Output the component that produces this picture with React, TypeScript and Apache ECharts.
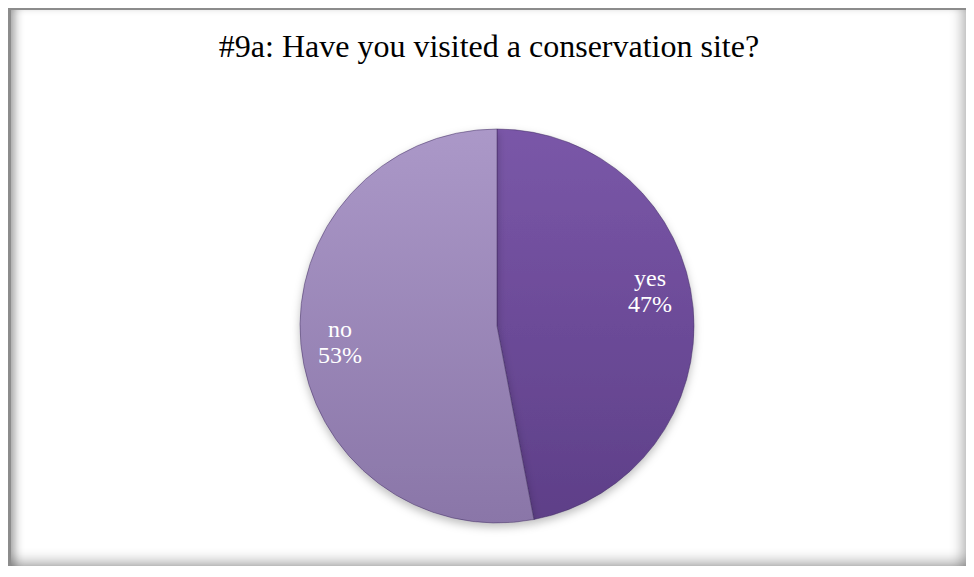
import React, { useEffect, useRef } from "react";
import * as echarts from "echarts";

const titleText = "#9a: Have you visited a conservation site?";
const categories = ["yes", "no"];
const values = [47, 53];
const topColors = ["#7a57a8", "#ab98c8"];
const bottomColors = ["#5e3f88", "#8a76a8"];

export default function App() {
  const ref = useRef<HTMLDivElement>(null);
  useEffect(() => {
    if (!ref.current) return;
    const chart = echarts.init(ref.current, null, { renderer: "svg" });
    const data = categories.map((name, i) => ({
      name,
      value: values[i],
      itemStyle: {
        color: new echarts.graphic.LinearGradient(0, 0, 0, 1, [
          { offset: 0, color: topColors[i] },
          { offset: 1, color: bottomColors[i] },
        ]),
      },
    }));
    chart.setOption({
      animation: false,
      title: {
        text: titleText,
        left: "center",
        top: 15,
        padding: [5, 5, 5, 23],
        textStyle: {
          fontFamily: "Liberation Serif",
          fontSize: 32,
          fontWeight: "normal",
          color: "#000",
        },
      },
      series: [
        {
          type: "pie",
          center: [486, 316],
          radius: 197,
          startAngle: 90,
          clockwise: true,
          data,
          itemStyle: {
            borderColor: "rgba(60,40,90,0.6)",
            borderWidth: 0.8,
            shadowBlur: 8,
            shadowOffsetY: 4,
            shadowColor: "rgba(0,0,0,0.25)",
          },
          label: {
            show: true,
            position: "inside",
            formatter: (p: any) => `${p.name}\n${Math.round(p.percent)}%`,
            fontFamily: "Liberation Serif",
            fontSize: 24,
            lineHeight: 26,
            color: "#fff",
          },
          labelLayout: (p: any) =>
            p.dataIndex === 0 ? { dx: 52, dy: -25 } : { dx: -56, dy: 6 },
          emphasis: { disabled: true },
        },
      ],
    });
    return () => chart.dispose();
  }, []);
  return (
    <div
      style={{
        position: "relative",
        width: 956,
        height: 556,
        borderTop: "3px solid #8c8c8c",
        borderLeft: "3px solid #8c8c8c",
        boxShadow:
          "4px 4px 7px rgba(0,0,0,0.5), inset 10px 0 10px -6px rgba(0,0,0,0.35), inset 0 -12px 12px -6px rgba(0,0,0,0.25), inset -12px 0 12px -6px rgba(0,0,0,0.25)",
        marginTop: -1,
        background: "#fff",
      }}
    >
      <div ref={ref} style={{ width: 956, height: 556 }} />
    </div>
  );
}
